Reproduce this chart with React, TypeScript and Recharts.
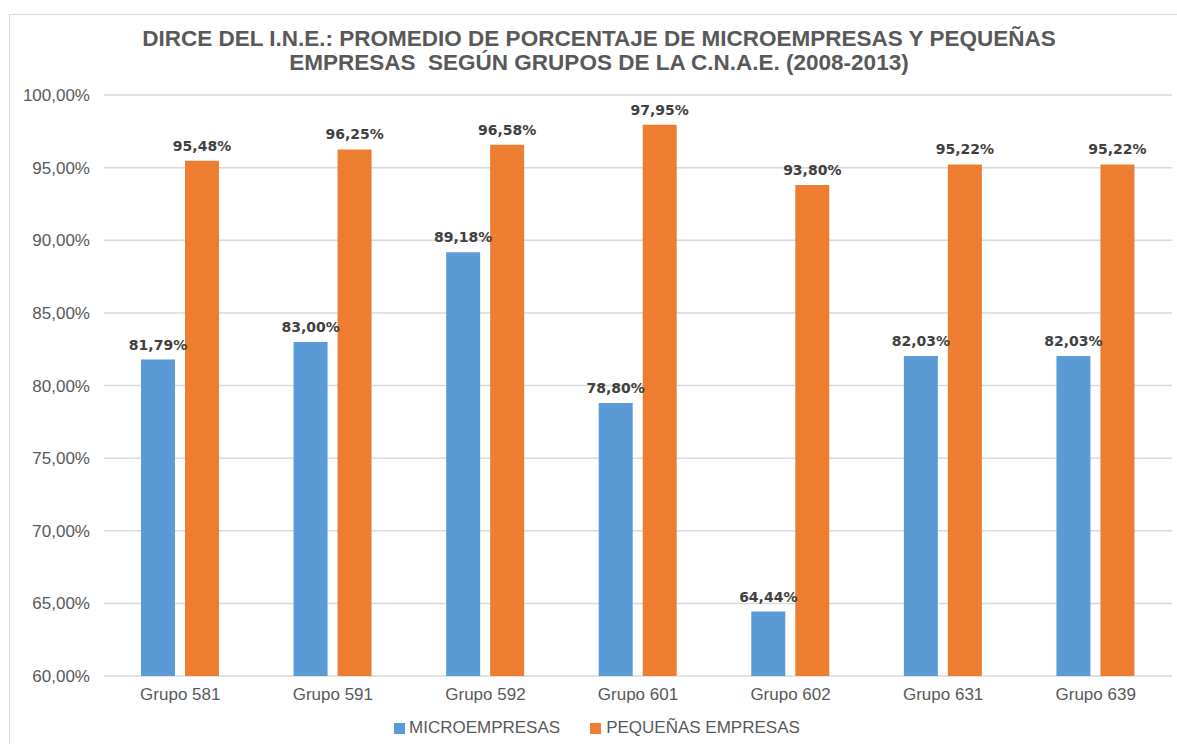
import { Bar, BarChart, CartesianGrid, LabelList, XAxis, YAxis } from "recharts";

const grupos = ["Grupo 581", "Grupo 591", "Grupo 592", "Grupo 601", "Grupo 602", "Grupo 631", "Grupo 639"];
const micro = [81.79, 83.0, 89.18, 78.8, 64.44, 82.03, 82.03];
const pequenas = [95.48, 96.25, 96.58, 97.95, 93.8, 95.22, 95.22];
const yTicks = [60, 65, 70, 75, 80, 85, 90, 95, 100];

const BLUE = "#5B9BD5";
const ORANGE = "#ED7D31";
const GREY = "#595959";

const data = grupos.map((g, i) => ({ grupo: g, micro: micro[i], pequenas: pequenas[i] }));

const pct = (v: number) => v.toFixed(2).replace(".", ",") + "%";

const labelStyle = {
    fill: "#404040",
    fontSize: 14,
    fontWeight: 700,
    fontFamily: "DejaVu Sans, Verdana, sans-serif",
};

export default function App() {
    return (
        <div
            style={{
                position: "absolute",
                left: 0,
                top: 0,
                width: 1177,
                height: 744,
                overflow: "hidden",
                background: "#fff",
                fontFamily: "'Liberation Sans', Arial, sans-serif",
            }}
        >
            <div
                style={{
                    position: "absolute",
                    left: 9,
                    top: 14,
                    width: 1300,
                    height: 800,
                    borderLeft: "1px solid #d9d9d9",
                    borderTop: "1px solid #d9d9d9",
                }}
            />
            <div
                style={{
                    position: "absolute",
                    left: 0,
                    top: 27,
                    width: 1198,
                    textAlign: "center",
                    color: GREY,
                    fontWeight: 700,
                    fontSize: 22.5,
                    lineHeight: "23.5px",
                    whiteSpace: "pre",
                }}
            >
                {"DIRCE DEL I.N.E.: PROMEDIO DE PORCENTAJE DE MICROEMPRESAS Y PEQUEÑAS\nEMPRESAS  SEGÚN GRUPOS DE LA C.N.A.E. (2008-2013)"}
            </div>
            <div style={{ position: "absolute", left: 0, top: 0 }}>
                <BarChart
                    width={1177}
                    height={744}
                    data={data}
                    margin={{ top: 95, right: 5, left: 0, bottom: 38 }}
                    barGap={10}
                >
                    <CartesianGrid vertical={false} stroke="#d9d9d9" strokeWidth={1.5} />
                    <XAxis
                        dataKey="grupo"
                        height={30}
                        axisLine={false}
                        tickLine={false}
                        tickSize={0}
                        tickMargin={12}
                        tick={{ fill: GREY, fontSize: 17 }}
                    />
                    <YAxis
                        width={104}
                        domain={[60, 100]}
                        ticks={yTicks}
                        allowDataOverflow
                        axisLine={false}
                        tickLine={false}
                        tickSize={0}
                        tickMargin={14}
                        tickFormatter={pct}
                        tick={{ fill: GREY, fontSize: 17 }}
                    />
                    <Bar dataKey="micro" fill={BLUE} barSize={34} isAnimationActive={false}>
                        <LabelList dataKey="micro" position="top" offset={10} formatter={pct} style={labelStyle} />
                    </Bar>
                    <Bar dataKey="pequenas" fill={ORANGE} barSize={34} isAnimationActive={false}>
                        <LabelList dataKey="pequenas" position="top" offset={10} formatter={pct} style={labelStyle} />
                    </Bar>
                </BarChart>
            </div>
            <div
                style={{
                    position: "absolute",
                    left: 394,
                    top: 718,
                    display: "flex",
                    alignItems: "center",
                    color: GREY,
                    fontSize: 17,
                    lineHeight: "20px",
                }}
            >
                <span style={{ width: 11, height: 11, background: BLUE, marginRight: 4, display: "inline-block" }} />
                <span>MICROEMPRESAS</span>
                <span
                    style={{ width: 11, height: 11, background: ORANGE, marginLeft: 30, marginRight: 5, display: "inline-block" }}
                />
                <span>PEQUEÑAS EMPRESAS</span>
            </div>
        </div>
    );
}
